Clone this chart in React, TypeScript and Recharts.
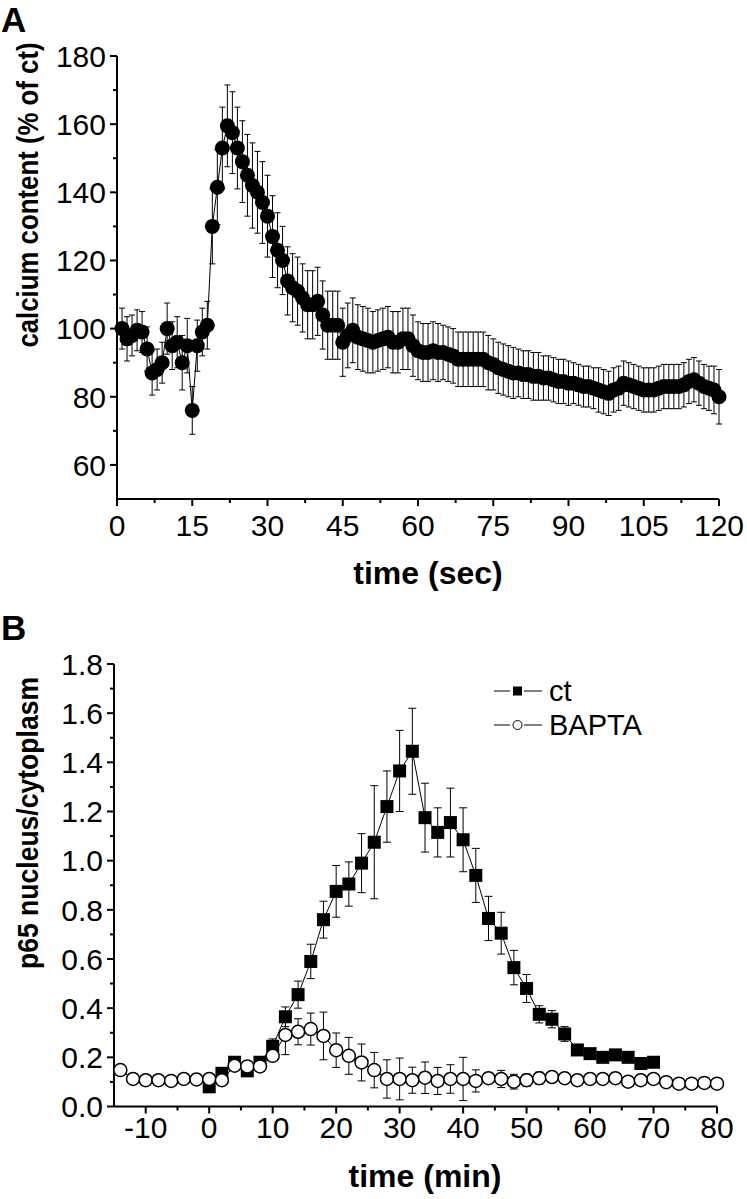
import React from "react";
import { LineChart, Line, XAxis, YAxis, ErrorBar, Legend } from "recharts";

const FONT = "'Liberation Sans', Arial, sans-serif";

// ---- panel A: cytosolic calcium, one reading per second ----
const secTime = [
  1, 2, 3, 4, 5, 6, 7, 8, 9, 10, 11, 12, 13, 14, 15, 16, 17, 18, 19, 20,
  21, 22, 23, 24, 25, 26, 27, 28, 29, 30, 31, 32, 33, 34, 35, 36, 37, 38, 39, 40,
  41, 42, 43, 44, 45, 46, 47, 48, 49, 50, 51, 52, 53, 54, 55, 56, 57, 58, 59, 60,
  61, 62, 63, 64, 65, 66, 67, 68, 69, 70, 71, 72, 73, 74, 75, 76, 77, 78, 79, 80,
  81, 82, 83, 84, 85, 86, 87, 88, 89, 90, 91, 92, 93, 94, 95, 96, 97, 98, 99, 100,
  101, 102, 103, 104, 105, 106, 107, 108, 109, 110, 111, 112, 113, 114, 115, 116, 117, 118, 119, 120,
];
const calcium = [
  100, 97, 98, 99.5, 99, 94, 87, 88, 90, 100, 95, 96, 90, 95, 76, 95, 99, 101, 130, 141.5,
  153, 159.5, 157.5, 153, 149, 145, 142, 140, 137, 133, 127, 123, 120, 114, 112, 111, 109, 107, 107, 108,
  104, 101, 101, 101, 96, 98, 99.5, 97.5, 97, 96.5, 96, 96.5, 97, 97.5, 96, 96, 97, 97, 95, 93.5,
  93, 93, 93.5, 93, 93, 92.5, 92, 91, 91, 91, 91, 91, 91, 90, 89.5, 88.5, 88, 87.5, 87, 87,
  86.5, 86.5, 86, 86, 85.5, 85.5, 85, 84.5, 84.5, 84, 84, 83.5, 83, 83, 82.5, 82, 81.5, 81, 82, 82.5,
  84, 83.5, 83, 82.5, 82, 82, 82, 82.5, 83, 83, 83, 83, 83.5, 84.5, 85, 84, 83, 82.5, 82, 80,
];
const calciumErr = [
  6, 6.5, 6, 6, 6, 6.5, 6.5, 6, 6, 7.5, 7, 7.5, 8, 8, 7, 7.5, 7, 7, 11, 11,
  12, 12, 12, 12, 12, 12, 12.5, 12, 12, 12, 12, 11, 10, 10, 10, 10, 10, 10, 10, 10,
  10, 10, 10, 10, 10, 9.5, 9.5, 9.5, 9.5, 9.5, 9, 9, 9, 9, 9, 9, 9, 9, 9, 8.5,
  8.5, 8.5, 8.5, 8.5, 8, 8, 8, 8, 8, 8, 8, 8, 8, 8, 7.5, 7.5, 7.5, 7.5, 7.5, 7,
  7, 7, 7, 7, 6.5, 6.5, 6.5, 6.5, 6.5, 6.5, 6, 6, 6, 6, 6, 6.5, 6.5, 6.5, 6.5, 6.5,
  6.5, 6.5, 6.5, 6.5, 6.5, 6.5, 6.5, 6.5, 6.5, 6.5, 6.5, 6.5, 6.5, 6.5, 6.5, 6.5, 6.5, 6.5, 7, 8,
];
const secTicks = [0, 7.5, 15, 22.5, 30, 37.5, 45, 52.5, 60, 67.5, 75, 82.5, 90, 97.5, 105, 112.5, 120];
const calciumTicks = [60, 70, 80, 90, 100, 110, 120, 130, 140, 150, 160, 170, 180];

// ---- panel B: p65 nuclear/cytoplasmic ratio ----
const ctTime = [0, 2, 4, 6, 8, 10, 12, 14, 16, 18, 20, 22, 24, 26, 28, 30, 32, 34, 36, 38, 40, 42, 44, 46, 48, 50, 52, 54, 56, 58, 60, 62, 64, 66, 68, 70];
const ctValue = [
  0.08, 0.135, 0.18, 0.145, 0.18, 0.245, 0.365, 0.455, 0.59, 0.76, 0.875, 0.905, 0.99, 1.075, 1.22, 1.365, 1.445, 1.175,
  1.115, 1.155, 1.085, 0.94, 0.765, 0.705, 0.565, 0.48, 0.375, 0.355, 0.295, 0.23, 0.215, 0.2, 0.21, 0.2, 0.175, 0.18,
];
const ctErr = [
  0.01, 0.01, 0.02, 0.02, 0.02, 0.03, 0.04, 0.055, 0.07, 0.075, 0.105, 0.09, 0.12, 0.23, 0.145, 0.165, 0.175, 0.14,
  0.1, 0.14, 0.13, 0.11, 0.09, 0.085, 0.07, 0.057, 0.035, 0.035, 0.03, 0.012, 0.01, 0.01, 0.01, 0.01, 0.012, 0.012,
];
const baptaTime = [
  -14, -12, -10, -8, -6, -4, -2, 0, 2, 4, 6, 8, 10, 12, 14, 16, 18, 20, 22, 24, 26, 28, 30, 32,
  34, 36, 38, 40, 42, 44, 46, 48, 50, 52, 54, 56, 58, 60, 62, 64, 66, 68, 70, 72, 74, 76, 78, 80,
];
const baptaValue = [
  0.148, 0.112, 0.107, 0.107, 0.104, 0.112, 0.11, 0.112, 0.107, 0.166, 0.163, 0.163, 0.206, 0.291, 0.304, 0.315, 0.287, 0.229, 0.206, 0.179, 0.148, 0.112, 0.112, 0.107,
  0.117, 0.104, 0.112, 0.112, 0.104, 0.115, 0.112, 0.101, 0.107, 0.115, 0.12, 0.115, 0.107, 0.112, 0.112, 0.115, 0.101, 0.107, 0.112, 0.099, 0.093, 0.093, 0.096, 0.093,
];
const baptaErr = [
  0.01, 0.01, 0.01, 0.01, 0.01, 0.01, 0.01, 0.01, 0.01, 0.015, 0.015, 0.015, 0.015, 0.08, 0.053, 0.065, 0.097, 0.07, 0.075, 0.075, 0.072, 0.078, 0.085, 0.053,
  0.064, 0.055, 0.058, 0.088, 0.045, 0.02, 0.035, 0.03, 0.025, 0.025, 0.02, 0.015, 0.015, 0.015, 0.015, 0.015, 0.015, 0.015, 0.015, 0.015, 0.015, 0.015, 0.015, 0.015,
];
const minTicks = [-10, -5, 0, 5, 10, 15, 20, 25, 30, 35, 40, 45, 50, 55, 60, 65, 70, 75, 80];
const ratioTicks = [0, 0.1, 0.2, 0.3, 0.4, 0.5, 0.6, 0.7, 0.8, 0.9, 1.0, 1.1, 1.2, 1.3, 1.4, 1.5, 1.6, 1.7, 1.8];

const calciumData = secTime.map((t, i) => ({ t, v: calcium[i], e: calciumErr[i] }));
const ctData = ctTime.map((t, i) => ({ t, v: ctValue[i], e: ctErr[i] }));
const baptaData = baptaTime.map((t, i) => ({ t, v: baptaValue[i], e: baptaErr[i] }));

// ticks drawn by hand so minor ticks get no label
const YTick = (props: any) => {
  const { x, y, payload, isMajor, fmt } = props;
  const major = isMajor(payload.value);
  return (
    <g>
      <line x1={x - (major ? 7 : 4)} x2={x} y1={y} y2={y} stroke="#000" strokeWidth={2} />
      {major && (
        <text x={x - 11} y={y} dy="0.36em" textAnchor="end" fontSize={30} fontFamily={FONT} fill="#000">
          {fmt(payload.value)}
        </text>
      )}
    </g>
  );
};

const XTick = (props: any) => {
  const { x, y, payload, isMajor, gap } = props;
  const major = isMajor(payload.value);
  return (
    <g>
      <line x1={x} x2={x} y1={y} y2={y + (major ? 7 : 4)} stroke="#000" strokeWidth={2} />
      {major && (
        <text x={x} y={y + gap} textAnchor="middle" fontSize={30} fontFamily={FONT} fill="#000">
          {payload.value}
        </text>
      )}
    </g>
  );
};

const XTitle = ({ px, py, text }: any) => (
  <text x={px} y={py} textAnchor="middle" fontSize={32} fontWeight="bold" fontFamily={FONT} fill="#000">
    {text}
  </text>
);

// the original y titles are condensed along their length
const YTitle = ({ px, py, text, squeeze }: any) => (
  <g transform={`translate(${px}, ${py}) rotate(-90) scale(${squeeze}, 1)`}>
    <text x={0} y={0} textAnchor="middle" fontSize={30} fontWeight="bold" fontFamily={FONT} fill="#000">
      {text}
    </text>
  </g>
);

const Square = (p: any) =>
  p.cx == null ? null : <rect key={p.index} x={p.cx - 6.5} y={p.cy - 6.5} width={13} height={13} fill="#000" />;

const OpenCircle = (p: any) =>
  p.cx == null ? null : <circle key={p.index} cx={p.cx} cy={p.cy} r={6.5} fill="#fff" stroke="#000" strokeWidth={1.5} />;

const FilledCircle = (p: any) =>
  p.cx == null ? null : <circle key={p.index} cx={p.cx} cy={p.cy} r={7.5} fill="#000" />;

const LegendBox = () => (
  <svg width={180} height={80}>
    <g stroke="#000" strokeWidth={1}>
      <line x1={6} x2={22} y1={31} y2={31} />
      <line x1={36} x2={54} y1={31} y2={31} />
      <line x1={6} x2={22} y1={65} y2={65} />
      <line x1={36} x2={54} y1={65} y2={65} />
    </g>
    <rect x={25} y={26.5} width={9} height={9} fill="#000" />
    <circle cx={29.5} cy={65} r={4.5} fill="#fff" stroke="#000" strokeWidth={1} />
    <text x={61} y={41} fontSize={29} fontFamily={FONT} fill="#000">ct</text>
    <text x={61} y={75} fontSize={29} fontFamily={FONT} fill="#000">BAPTA</text>
  </svg>
);

const panelLetter: React.CSSProperties = {
  position: "absolute",
  left: 1,
  fontFamily: FONT,
  fontWeight: "bold",
  fontSize: 35,
  lineHeight: "40px",
};

const App: React.FC = () => {
  return (
    <div style={{ position: "absolute", left: 0, top: 0, width: 747, height: 1199, background: "#fff" }}>
      <div style={{ position: "absolute", left: 0, top: 0 }}>
        <LineChart width={747} height={600} data={calciumData} margin={{ top: 56, right: 28, bottom: 0, left: 0 }}>
          <XAxis
            dataKey="t"
            type="number"
            domain={[0, 120]}
            ticks={secTicks}
            interval={0}
            tickSize={0}
            tickMargin={0}
            tickLine={false}
            height={101}
            axisLine={{ stroke: "#000", strokeWidth: 2 }}
            tick={(p: any) => <XTick {...p} gap={37} isMajor={(v: number) => v % 15 === 0} />}
            label={<XTitle px={428} py={584} text="time (sec)" />}
          />
          <YAxis
            type="number"
            domain={[50, 180]}
            ticks={calciumTicks}
            interval={0}
            tickSize={0}
            tickMargin={0}
            tickLine={false}
            width={117}
            axisLine={{ stroke: "#000", strokeWidth: 2 }}
            tick={(p: any) => <YTick {...p} isMajor={(v: number) => v % 20 === 0} fmt={(v: number) => String(v)} />}
            label={<YTitle px={38} py={195} text="calcium content (% of ct)" squeeze={0.86} />}
          />
          <Line
            dataKey="v"
            stroke="#000"
            strokeWidth={1}
            dot={FilledCircle}
            activeDot={false}
            isAnimationActive={false}
          >
            <ErrorBar dataKey="e" direction="y" width={3} stroke="#000" strokeWidth={1} />
          </Line>
        </LineChart>
        <div style={{ ...panelLetter, top: 0 }}>A</div>
      </div>

      <div style={{ position: "absolute", left: 0, top: 600 }}>
        <LineChart width={747} height={599} margin={{ top: 64, right: 30, bottom: 0, left: 0 }}>
          <XAxis
            dataKey="t"
            type="number"
            domain={[-15, 80]}
            ticks={minTicks}
            interval={0}
            tickSize={0}
            tickMargin={0}
            tickLine={false}
            height={92.5}
            axisLine={{ stroke: "#000", strokeWidth: 2 }}
            tick={(p: any) => <XTick {...p} gap={31.5} isMajor={(v: number) => v % 10 === 0} />}
            label={<XTitle px={425} py={587} text="time (min)" />}
          />
          <YAxis
            type="number"
            domain={[0, 1.8]}
            ticks={ratioTicks}
            interval={0}
            tickSize={0}
            tickMargin={0}
            tickLine={false}
            width={114}
            axisLine={{ stroke: "#000", strokeWidth: 2 }}
            tick={(p: any) => (
              <YTick {...p} isMajor={(v: number) => Math.round(v * 10) % 2 === 0} fmt={(v: number) => v.toFixed(1)} />
            )}
            label={<YTitle px={38} py={223} text="p65 nucleus/cytoplasm" squeeze={0.885} />}
          />
          <Legend
            layout="horizontal"
            verticalAlign="middle"
            align="center"
            wrapperStyle={{ top: 60, left: 488, width: 180, height: 80 }}
            content={() => <LegendBox />}
          />
          <Line
            data={ctData}
            dataKey="v"
            name="ct"
            stroke="#000"
            strokeWidth={1}
            dot={Square}
            activeDot={false}
            isAnimationActive={false}
          >
            <ErrorBar dataKey="e" direction="y" width={4} stroke="#000" strokeWidth={1} />
          </Line>
          <Line
            data={baptaData}
            dataKey="v"
            name="BAPTA"
            stroke="#000"
            strokeWidth={1}
            dot={OpenCircle}
            activeDot={false}
            isAnimationActive={false}
          >
            <ErrorBar dataKey="e" direction="y" width={4} stroke="#000" strokeWidth={1} />
          </Line>
        </LineChart>
        <div style={{ ...panelLetter, top: 8 }}>B</div>
      </div>
    </div>
  );
};

export default App;
